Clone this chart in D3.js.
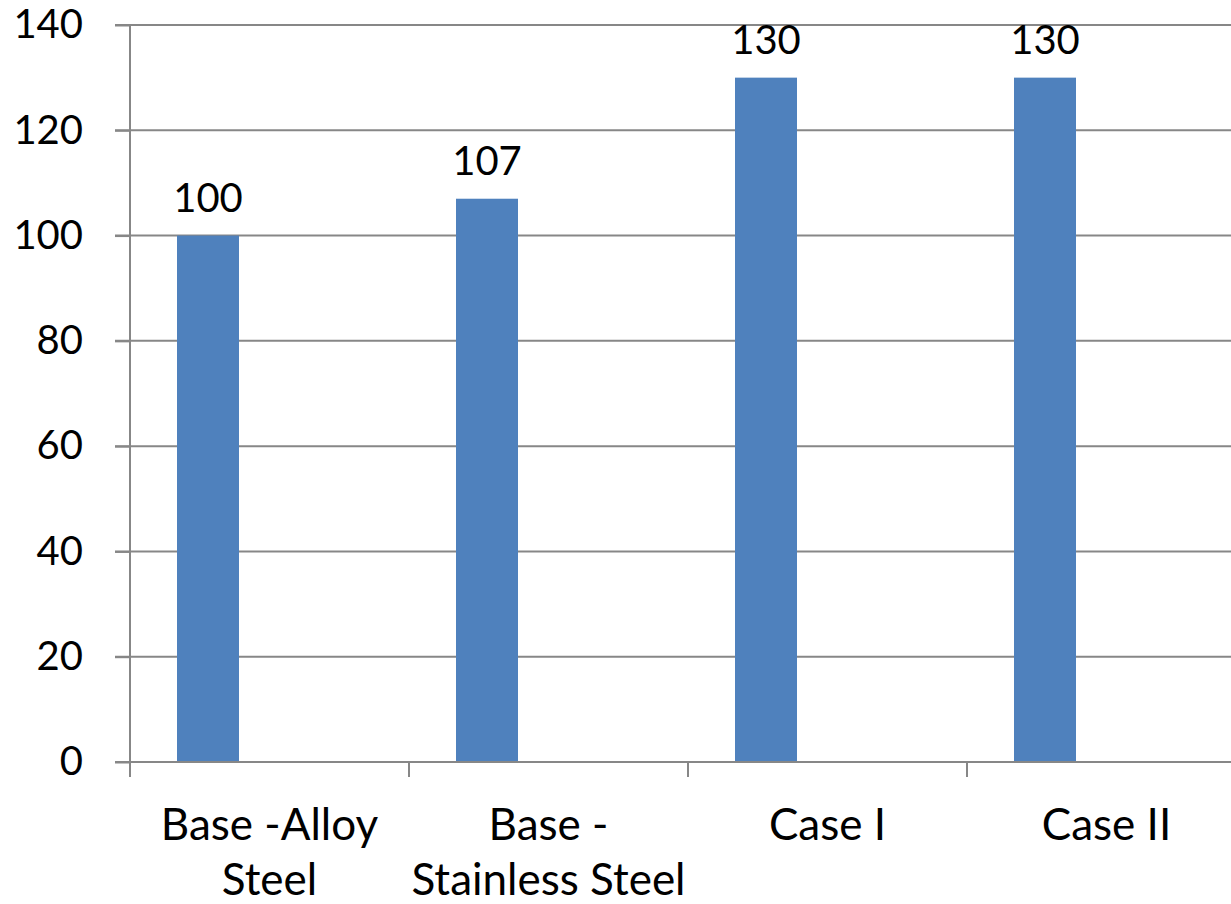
<!DOCTYPE html>
<html>
<head>
<meta charset="utf-8">
<script src="https://cdn.jsdelivr.net/npm/d3@7"></script>
<style>
  html, body { margin: 0; padding: 0; background: #fff; }
  svg { display: block; }
  text { font-family: Lato, "Open Sans", sans-serif; fill: #000; }
</style>
</head>
<body>
<svg id="chart" width="1231" height="904"></svg>
<script>
// Chart data
const categories = ["Base -Alloy Steel", "Base - Stainless Steel", "Case I", "Case II"];
const categoryLines = [["Base -Alloy", "Steel"], ["Base -", "Stainless Steel"], ["Case I"], ["Case II"]];
const values = [100, 107, 130, 130];
const yTicks = [0, 20, 40, 60, 80, 100, 120, 140];

(function draw() {
  const svg = d3.select("#chart");
  const W = 1231;
  const plotLeft = 130, plotTop = 25, plotBottom = 762;
  const band = 279;

  const x = d3.scaleBand()
    .domain(categories)
    .range([plotLeft, plotLeft + band * categories.length])
    .paddingInner(0).paddingOuter(0);

  const y = d3.scaleLinear().domain([0, 140]).range([plotBottom, plotTop]);

  const grey = "#878787";

  // Horizontal gridlines
  svg.append("g")
    .selectAll("line")
    .data(yTicks.filter(d => d > 0))
    .join("line")
    .attr("x1", plotLeft - 15).attr("x2", W)
    .attr("y1", d => y(d)).attr("y2", d => y(d))
    .attr("stroke", grey).attr("stroke-width", 2);

  // Y axis ticks and labels
  const yAxis = d3.axisLeft(y).tickValues(yTicks).tickSize(15).tickPadding(32).tickFormat(d3.format("d"));
  const gy = svg.append("g").attr("transform", `translate(${plotLeft},0)`).call(yAxis);
  gy.select(".domain").remove();
  gy.selectAll(".tick line").attr("stroke", grey).attr("stroke-width", 2);
  gy.selectAll(".tick text")
    .style("font-family", "Lato, 'Open Sans', sans-serif")
    .style("font-size", "40px").attr("fill", "#000");

  // Bars
  const barOffset = 47 / band, barWidth = 62 / band;
  svg.append("g")
    .selectAll("rect")
    .data(values)
    .join("rect")
    .attr("x", (d, i) => x(categories[i]) + x.bandwidth() * barOffset)
    .attr("width", x.bandwidth() * barWidth)
    .attr("y", d => y(d))
    .attr("height", d => y(0) - y(d))
    .attr("fill", "#4F81BD");

  // Value labels
  svg.append("g")
    .selectAll("text")
    .data(values)
    .join("text")
    .attr("x", (d, i) => x(categories[i]) + x.bandwidth() * (barOffset + barWidth / 2))
    .attr("y", d => y(d) - 24)
    .attr("text-anchor", "middle")
    .style("font-size", "40px")
    .text(d => d);

  // Vertical axis line
  svg.append("line")
    .attr("x1", plotLeft).attr("x2", plotLeft)
    .attr("y1", plotTop).attr("y2", plotBottom)
    .attr("stroke", grey).attr("stroke-width", 2);

  // X axis line and category ticks
  svg.append("line")
    .attr("x1", plotLeft - 15).attr("x2", W)
    .attr("y1", plotBottom).attr("y2", plotBottom)
    .attr("stroke", grey).attr("stroke-width", 2);

  svg.append("g")
    .selectAll("line")
    .data(categories)
    .join("line")
    .attr("x1", d => x(d)).attr("x2", d => x(d))
    .attr("y1", plotBottom).attr("y2", plotBottom + 15)
    .attr("stroke", grey).attr("stroke-width", 2);

  // Category labels, wrapped over two lines where needed
  const cat = svg.append("g")
    .selectAll("text")
    .data(categories)
    .join("text")
    .attr("text-anchor", "middle")
    .attr("x", d => x(d) + x.bandwidth() / 2)
    .attr("y", 840)
    .style("font-size", "44px");
  cat.each(function(d, i) {
    const t = d3.select(this);
    categoryLines[i].forEach((ln, j) => {
      t.append("tspan")
        .attr("x", x(d) + x.bandwidth() / 2)
        .attr("dy", j === 0 ? 0 : 55)
        .text(ln);
    });
  });
})();
</script>
</body>
</html>
